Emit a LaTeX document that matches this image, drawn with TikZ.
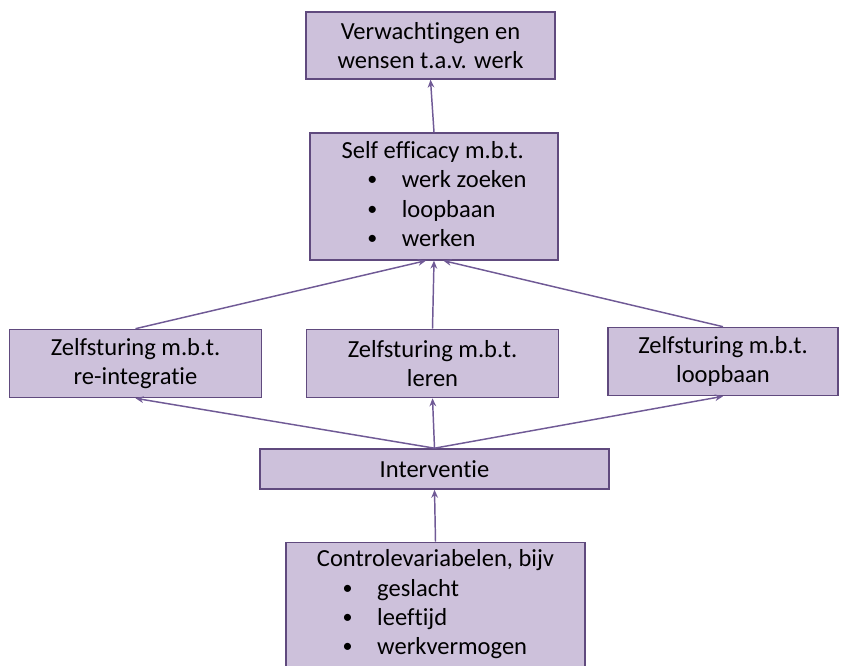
\documentclass[tikz,border=0pt]{standalone}
\usepackage{fontspec}
\setmainfont{Carlito}[Ligatures=NoCommon]
\usetikzlibrary{arrows.meta}
\definecolor{boxfill}{RGB}{205,193,219}
\definecolor{boxline}{RGB}{96,74,126}
\definecolor{arrowcol}{RGB}{112,90,150}
% bulleted list, indented under the heading
\newcommand{\blist}[1]{\begin{tabular}{@{\hspace{1.05em}}l@{\hspace{1.0em}}l@{}}#1\end{tabular}}
\newcommand{\bul}{\raisebox{0.08em}{\fontsize{15}{15}\selectfont\textbullet}}

\begin{document}
\begin{tikzpicture}[x=0.75pt,y=-0.75pt,
  box/.style={draw=boxline,fill=boxfill,line width=1.2pt,inner sep=2pt,
    font=\fontsize{18.4}{22}\selectfont,align=center},
  arr/.style={draw=arrowcol,line width=1.1pt,-{Stealth[length=6pt,width=5pt]}}]
  \useasboundingbox (0,0) rectangle (849,666);
  % boxes, top to bottom
  \node[box,minimum width=186.5pt,minimum height=50pt] (wens) at (430.5,45.5)
    {Verwachtingen en\\wensen t.a.v. werk};
  \node[box,minimum width=186pt,minimum height=95pt] (self) at (434,196.5)
    {\begin{tabular}{@{}l@{}}Self efficacy m.b.t.\\
      \blist{\bul & werk zoeken\\ \bul & loopbaan\\ \bul & werken}\end{tabular}};
  \node[box,minimum width=189pt,minimum height=51pt] (zre) at (135.5,363.5)
    {Zelfsturing m.b.t.\\re-integratie};
  \node[box,minimum width=189pt,minimum height=51pt] (zle) at (432.5,363.5)
    {Zelfsturing m.b.t.\\leren};
  \node[box,minimum width=172.5pt,minimum height=51pt] (zlo) at (723,361.5)
    {Zelfsturing m.b.t.\\loopbaan};
  \node[box,minimum width=261.5pt,minimum height=30pt] (inter) at (434.5,469)
    {Interventie};
  \node[box,minimum width=224pt,minimum height=94pt] (ctrl) at (435.5,605)
    {\begin{tabular}{@{}l@{}}Controlevariabelen, bijv\\
      \blist{\bul & geslacht\\ \bul & leeftijd\\ \bul & werkvermogen}\end{tabular}};
  % connectors
  \draw[arr] (ctrl.north) -- (inter.south);
  \draw[arr] (inter.north) -- (zre.south);
  \draw[arr] (inter.north) -- (zle.south);
  \draw[arr] (inter.north) -- (zlo.south);
  \draw[arr] (zre.north) -- ([xshift=-6pt]self.south);
  \draw[arr] (zle.north) -- (self.south);
  \draw[arr] (zlo.north) -- ([xshift=7pt]self.south);
  \draw[arr] (self.north) -- (wens.south);
\end{tikzpicture}
\end{document}
